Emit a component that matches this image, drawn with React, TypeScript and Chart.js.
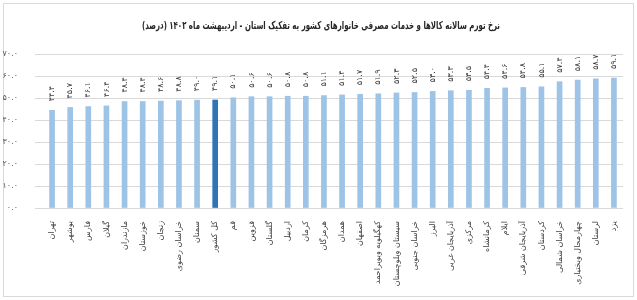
import React, { useEffect, useRef } from "react";
import { Chart, registerables } from "chart.js";

Chart.register(...registerables);

const titleText =
  "نرخ تورم سالانه کالاها و خدمات مصرفی خانوارهای کشور به تفکیک استان - اردیبهشت ماه ۱۴۰۲ (درصد)";

const categories = [
  "تهران",
  "بوشهر",
  "فارس",
  "گیلان",
  "مازندران",
  "خوزستان",
  "زنجان",
  "خراسان رضوی",
  "سمنان",
  "کل کشور",
  "قم",
  "قزوین",
  "گلستان",
  "اردبیل",
  "کرمان",
  "هرمزگان",
  "همدان",
  "اصفهان",
  "کهگیلویه وبویراحمد",
  "سیستان وبلوچستان",
  "خراسان جنوبی",
  "البرز",
  "آذربایجان غربی",
  "مرکزی",
  "کرمانشاه",
  "ایلام",
  "آذربایجان شرقی",
  "کردستان",
  "خراسان شمالی",
  "چهارمحال وبختیاری",
  "لرستان",
  "یزد",
];

const values = [
  44.4, 45.7, 46.1, 46.4, 48.4, 48.4, 48.6, 48.8, 49.0, 49.1, 50.1, 50.6, 50.6,
  50.8, 50.8, 51.1, 51.4, 51.7, 51.9, 52.3, 52.5, 53.0, 53.3, 53.5, 54.4, 54.6,
  54.8, 55.1, 57.4, 58.1, 58.7, 59.1,
];

const highlightCategory = "کل کشور";

const yTicks = [0, 10, 20, 30, 40, 50, 60, 70];

const FA_DIGITS = "۰۱۲۳۴۵۶۷۸۹";
const toFa = (s: string) => s.replace(/\d/g, (d) => FA_DIGITS[Number(d)]);

const FONT = "'DejaVu Sans', sans-serif";

const decorPlugin = {
  id: "decor",
  beforeDraw(chart: any) {
    const ctx = chart.ctx;
    ctx.save();
    ctx.fillStyle = "#ffffff";
    ctx.fillRect(0, 0, chart.width, chart.height);
    ctx.strokeStyle = "#d9d9d9";
    ctx.lineWidth = 1;
    ctx.strokeRect(3.5, 3.5, chart.width - 7, chart.height - 7);
    ctx.fillStyle = "#262626";
    ctx.font = `bold 11px ${FONT}`;
    ctx.textAlign = "center";
    ctx.textBaseline = "middle";
    const w = ctx.measureText(titleText).width;
    const target = 358;
    ctx.translate(321, 26);
    ctx.scale(Math.min(1, target / w), 1);
    ctx.fillText(titleText, 0, 0);
    ctx.restore();
  },
  afterDatasetsDraw(chart: any) {
    const ctx = chart.ctx;
    const meta = chart.getDatasetMeta(0);
    ctx.save();
    ctx.fillStyle = "#404040";
    ctx.font = `8px ${FONT}`;
    ctx.textAlign = "left";
    ctx.textBaseline = "middle";
    meta.data.forEach((bar: any, i: number) => {
      ctx.save();
      ctx.translate(bar.x, bar.y - 9);
      ctx.rotate(-Math.PI / 2);
      ctx.fillText(toFa(values[i].toFixed(1)), 0, 0);
      ctx.restore();
    });
    ctx.restore();
  },
};

export default function App() {
  const canvasRef = useRef<HTMLCanvasElement | null>(null);

  useEffect(() => {
    if (!canvasRef.current) return;
    const chart = new Chart(canvasRef.current, {
      type: "bar",
      data: {
        labels: categories,
        datasets: [
          {
            data: values,
            backgroundColor: categories.map((c) =>
              c === highlightCategory ? "#2e75b6" : "#9dc3e6"
            ),
            barThickness: 5,
          },
        ],
      },
      options: {
        responsive: false,
        animation: false,
        devicePixelRatio: 1,
        layout: { padding: { top: 54, right: 14, left: 0, bottom: 0 } },
        plugins: {
          legend: { display: false },
          title: { display: false },
          tooltip: { enabled: false },
        },
        scales: {
          x: {
            grid: { display: false },
            border: { display: false },
            ticks: {
              autoSkip: false,
              minRotation: 90,
              maxRotation: 90,
              padding: 5,
              color: "#404040",
              font: { family: FONT, size: 8 },
            },
            afterFit: (s: any) => {
              s.height = 92;
            },
          },
          y: {
            min: 0,
            max: 70,
            afterBuildTicks: (s: any) => {
              s.ticks = yTicks.map((v) => ({ value: v }));
            },
            grid: { color: "#d9d9d9", lineWidth: 1 },
            border: { display: false },
            ticks: {
              padding: 17,
              color: "#595959",
              font: { family: FONT, size: 8 },
              callback: (v: any) => toFa(Number(v).toFixed(1)),
            },
            afterFit: (s: any) => {
              s.width = 43;
            },
          },
        },
      },
      plugins: [decorPlugin],
    });
    return () => chart.destroy();
  }, []);

  return (
    <div style={{ position: "fixed", left: 0, top: 0, width: 637, height: 300 }}>
      <canvas ref={canvasRef} width={637} height={300} />
    </div>
  );
}
